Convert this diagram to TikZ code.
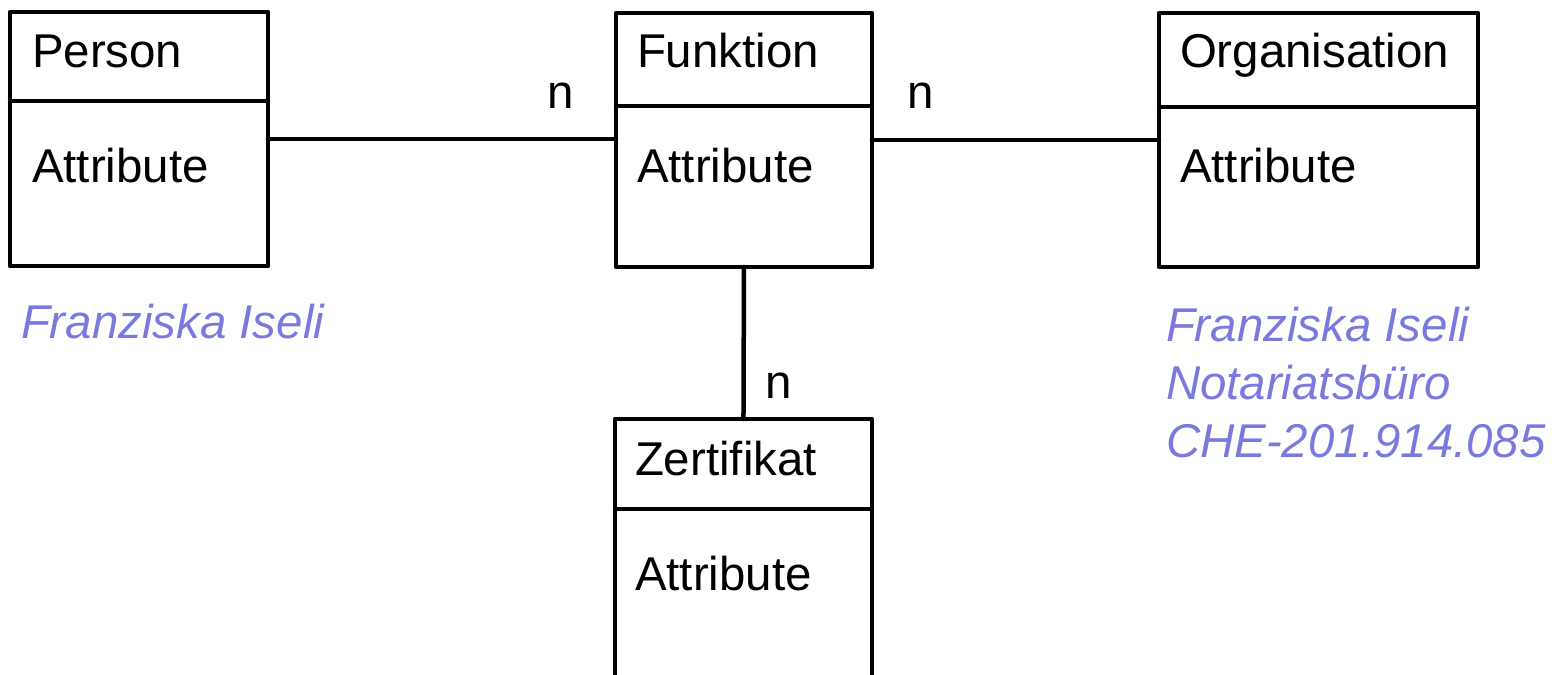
\documentclass[tikz,border=0pt]{standalone}
\usepackage{fontspec}
\setmainfont{Liberation Sans}
\definecolor{notecol}{RGB}{122,122,222}
\begin{document}
\begin{tikzpicture}[x=0.02cm, y=-0.02cm, line join=round, line cap=round, line width=0.09cm]
	\tikzset{every node/.style={font=\fontsize{27}{32}\selectfont, inner sep=0pt, outer sep=0pt},
		entity/.style={draw, anchor=north west, minimum width=#1},
		label text/.style={anchor=base west},
		mult/.style={anchor=base west},
		note/.style={anchor=base west, text=notecol, font=\fontsize{27}{32}\selectfont\itshape}}
	\useasboundingbox (0,0) rectangle (1566,674);
	% entities
	\node[entity=5.16cm, minimum height=5.08cm] (person) at (10,12) {};
	\node[entity=5.12cm, minimum height=5.08cm] (funktion) at (616,13) {};
	\node[entity=6.38cm, minimum height=5.08cm] (organisation) at (1159,13) {};
	\node[entity=5.14cm, minimum height=6cm] (zertifikat) at (615,419) {};
	\draw ([shift={(0,89)}]person.north west) -- ([shift={(0,89)}]person.north east);
	\draw ([shift={(0,93)}]funktion.north west) -- ([shift={(0,93)}]funktion.north east);
	\draw ([shift={(0,94)}]organisation.north west) -- ([shift={(0,94)}]organisation.north east);
	\draw ([shift={(0,90)}]zertifikat.north west) -- ([shift={(0,90)}]zertifikat.north east);
	\node[label text] (person-name) at ([shift={(22,55)}]person.north west) {Person};
	\node[label text] (person-attr) at ([shift={(22,170)}]person.north west) {Attribute};
	\node[label text] (funktion-name) at ([shift={(21,54)}]funktion.north west) {Funktion};
	\node[label text] (funktion-attr) at ([shift={(21,169)}]funktion.north west) {Attribute};
	\node[label text] (organisation-name) at ([shift={(21,54)}]organisation.north west) {Organisation};
	\node[label text] (organisation-attr) at ([shift={(21,169)}]organisation.north west) {Attribute};
	\node[label text] (zertifikat-name) at ([shift={(20,56)}]zertifikat.north west) {Zertifikat};
	\node[label text] (zertifikat-attr) at ([shift={(20,171)}]zertifikat.north west) {Attribute};
	% relations
	\draw (person.east) -- (person.east -| funktion.west);
	\draw (funktion.east) -- (organisation.west);
	\draw (funktion.south) -- (zertifikat.north);
	\node[mult] (n-person) at (547,108) {n};
	\node[mult] (n-organisation) at (907,108) {n};
	\node[mult] (n-zertifikat) at (765,398) {n};
	% notes
	\node[note] (note-person) at (21,338) {Franziska Iseli};
	\node[note] (note-org1) at (1166,341) {Franziska Iseli};
	\node[note] (note-org2) at (1166,399) {Notariatsbüro};
	\node[note] (note-org3) at (1166,457) {CHE-201.914.085};
\end{tikzpicture}
\end{document}
